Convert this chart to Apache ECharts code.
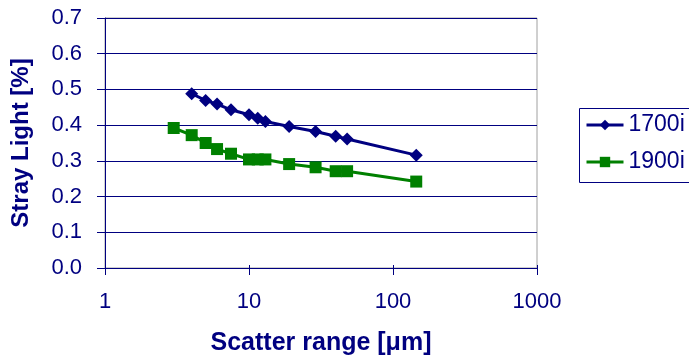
<!DOCTYPE html>
<html>
<head>
<meta charset="utf-8">
<script src="https://cdn.jsdelivr.net/npm/echarts@6/dist/echarts.min.js"></script>
<style>
  html, body { margin: 0; padding: 0; background: #fff; }
  #chart { width: 689px; height: 361px; }
</style>
</head>
<body>
<div id="chart"></div>
<script>
// Scatter range (µm) and stray light (%) per instrument
const scatter1700 = [4, 5, 6, 7.5, 10, 11.5, 13, 19, 29, 40, 48, 145];
const stray1700   = [0.488, 0.469, 0.459, 0.443, 0.429, 0.419, 0.410, 0.396, 0.382, 0.369, 0.361, 0.316];
const scatter1900 = [3, 4, 5, 6, 7.5, 10, 11.5, 13, 19, 29, 40, 48, 145];
const stray1900   = [0.392, 0.372, 0.350, 0.333, 0.320, 0.304, 0.304, 0.304, 0.291, 0.282, 0.271, 0.271, 0.242];
const seriesNames = ['1700i', '1900i'];
const xTicks = [1, 10, 100, 1000];
const yTickStep = 0.1;

const NAVY = '#000080';
const GREEN = '#008000';
const FONT = 'Liberation Sans, Arial, sans-serif';

const pairs = (xs, ys) => xs.map((x, i) => [x, ys[i]]);

const chart = echarts.init(document.getElementById('chart'), null, { renderer: 'canvas' });
chart.setOption({
  animation: false,
  backgroundColor: '#fff',
  grid: {
    left: 105, top: 18, right: 152, bottom: 91,
    show: true, borderColor: '#a0a0a0', borderWidth: 1, backgroundColor: 'transparent'
  },
  // legend frame runs past the right edge of the canvas
  graphic: [{
    type: 'rect', left: 577, top: 106, z: 0, silent: true,
    shape: { width: 200, height: 74 },
    style: { fill: 'none', stroke: NAVY, lineWidth: 1 }
  }],
  legend: {
    orient: 'vertical',
    left: 577, top: 106,
    padding: [7, 8, 6, 8],
    borderWidth: 0,
    itemWidth: 37, itemHeight: 13, itemGap: 13,
    lineStyle: { width: 3 },
    textStyle: { color: NAVY, fontFamily: FONT, fontSize: 23, lineHeight: 24 },
    data: seriesNames
  },
  xAxis: [{
    type: 'log', logBase: 10, min: xTicks[0], max: xTicks[xTicks.length - 1],
    name: 'Scatter range [\u03bcm]', nameLocation: 'middle', nameGap: 63,
    nameTextStyle: { color: NAVY, fontFamily: FONT, fontSize: 25, fontWeight: 'bold' },
    axisLine: { lineStyle: { color: NAVY, width: 1 } },
    axisTick: { show: true, length: 7, lineStyle: { color: NAVY } },
    axisLabel: { color: NAVY, fontFamily: FONT, fontSize: 22, margin: 23, formatter: v => String(v) },
    minorTick: { show: false },
    splitLine: { show: false }
  }, {
    // short inner half of the cross tick marks
    type: 'log', logBase: 10, min: xTicks[0], max: xTicks[xTicks.length - 1],
    position: 'bottom',
    axisLine: { show: false },
    axisTick: { show: true, inside: true, length: 3, lineStyle: { color: NAVY } },
    axisLabel: { show: false },
    splitLine: { show: false }
  }],
  yAxis: {
    type: 'value', min: 0, max: 0.7, interval: yTickStep,
    name: 'Stray Light [%]', nameLocation: 'middle', nameGap: 72, nameRotate: 90,
    nameTextStyle: { color: NAVY, fontFamily: FONT, fontSize: 24, fontWeight: 'bold' },
    axisLine: { show: true, lineStyle: { color: NAVY, width: 1 } },
    axisTick: { show: true, length: 8, lineStyle: { color: NAVY } },
    axisLabel: {
      color: NAVY, fontFamily: FONT, fontSize: 22, margin: 23,
      formatter: v => v.toFixed(1)
    },
    splitLine: { show: true, lineStyle: { color: NAVY, width: 1 } }
  },
  series: [{
    name: seriesNames[0], type: 'line', xAxisIndex: 0,
    data: pairs(scatter1700, stray1700),
    symbol: 'diamond', symbolSize: 13,
    itemStyle: { color: NAVY },
    lineStyle: { color: NAVY, width: 3 }
  }, {
    name: seriesNames[1], type: 'line', xAxisIndex: 0,
    data: pairs(scatter1900, stray1900),
    symbol: 'rect', symbolSize: 12,
    itemStyle: { color: GREEN },
    lineStyle: { color: GREEN, width: 3 }
  }]
});
</script>
</body>
</html>
